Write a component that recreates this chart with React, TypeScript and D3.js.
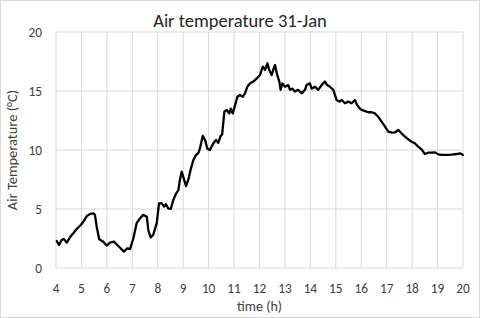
import * as d3 from "d3";

const width = 480;
const height = 318;
const margin = { top: 32, right: 17, bottom: 50, left: 56 };

// time of day (h) and air temperature (°C)
const hours = [
  4.03, 4.12, 4.22, 4.31, 4.42, 4.55, 4.68, 4.81, 4.97, 5.07, 5.21, 5.34, 5.47, 5.53,
  5.6, 5.7, 5.86, 5.99, 6.12, 6.28, 6.41, 6.54, 6.67, 6.8, 6.91, 7.04, 7.17, 7.3,
  7.43, 7.57, 7.63, 7.72, 7.82, 7.96, 8.05, 8.15, 8.25, 8.32, 8.41, 8.51, 8.61, 8.72,
  8.81, 8.87, 8.94, 9.0, 9.11, 9.2, 9.29, 9.4, 9.5, 9.59, 9.66, 9.77, 9.86, 9.95,
  10.05, 10.18, 10.29, 10.38, 10.47, 10.53, 10.62, 10.71, 10.81, 10.87, 10.95, 11.04,
  11.13, 11.23, 11.34, 11.43, 11.52, 11.63, 11.76, 11.89, 12.02, 12.13, 12.22, 12.31,
  12.38, 12.48, 12.54, 12.61, 12.68, 12.78, 12.83, 12.9, 13.0, 13.13, 13.2, 13.3,
  13.39, 13.52, 13.66, 13.79, 13.85, 13.98, 14.05, 14.18, 14.31, 14.44, 14.57, 14.66,
  14.77, 14.9, 15.03, 15.14, 15.23, 15.36, 15.49, 15.62, 15.75, 15.84, 15.95, 16.02,
  16.15, 16.28, 16.41, 16.54, 16.67, 16.8, 16.93, 17.06, 17.2, 17.33, 17.46, 17.59,
  17.72, 17.85, 17.98, 18.11, 18.24, 18.37, 18.5, 18.63, 18.77, 18.9, 19.03, 19.16,
  19.36, 19.55, 19.75, 19.88, 20.0,
];
const temperatures = [
  2.29, 1.95, 2.37, 2.46, 2.15, 2.6, 2.94, 3.3, 3.64, 3.9, 4.4, 4.58, 4.63, 4.5,
  3.5, 2.43, 2.23, 1.9, 2.15, 2.23, 1.95, 1.67, 1.38, 1.67, 1.6, 2.5, 3.8, 4.2,
  4.5, 4.35, 3.2, 2.6, 2.8, 3.8, 5.48, 5.5, 5.2, 5.4, 5.05, 5.0, 5.76, 6.3,
  6.6, 7.46, 8.16, 7.74, 6.95, 7.46, 8.3, 9.15, 9.58, 9.72, 10.14, 11.2, 10.85, 10.1,
  10.0, 10.55, 10.85, 10.6, 11.2, 11.3, 13.25, 13.4, 13.1, 13.5, 13.1, 13.8,
  14.5, 14.66, 14.5, 14.8, 15.36, 15.65, 15.8, 16.07, 16.36, 17.06, 16.8, 17.35,
  16.8, 16.36, 16.8, 17.2, 16.5, 15.8, 15.1, 15.65, 15.36, 15.5, 15.1, 15.2,
  14.95, 15.1, 14.8, 15.1, 15.5, 15.65, 15.2, 15.36, 15.1, 15.5, 15.8, 15.5,
  15.36, 15.1, 14.24, 14.1, 14.24, 13.96, 14.1, 13.96, 14.24, 13.8, 13.5, 13.4,
  13.3, 13.2, 13.2, 13.1, 12.8, 12.4, 12.0, 11.55, 11.47, 11.5, 11.7, 11.4,
  11.13, 10.9, 10.7, 10.56, 10.28, 10.06, 9.66, 9.77, 9.77, 9.8, 9.63, 9.58,
  9.58, 9.6, 9.66, 9.72, 9.58,
];

const xTicks = d3.range(4, 21, 1);
const yTicks = [0, 5, 10, 15, 20];

const font = "Carlito, Calibri, Lato, sans-serif";
const labelColor = "#404040";

export default function App() {
  const innerW = width - margin.left - margin.right;
  const innerH = height - margin.top - margin.bottom;

  const x = d3.scaleLinear().domain([4, 20]).range([0, innerW]);
  const y = d3.scaleLinear().domain([0, 20]).range([innerH, 0]);

  const points = hours.map((h, i) => [h, temperatures[i]] as [number, number]);
  const line = d3
    .line<[number, number]>()
    .x((d) => x(d[0]))
    .y((d) => y(d[1]));

  return (
    <svg
      width={width}
      height={height}
      style={{ position: "absolute", left: 0, top: 0, background: "#fff" }}
      fontFamily={font}
    >
      <rect
        x={0.5}
        y={0.5}
        width={width - 1}
        height={height - 1}
        fill="#fff"
        stroke="#d9d9d9"
      />
      <text
        x={width / 2}
        y={27}
        textAnchor="middle"
        fontSize={18.5}
        fill="#262626"
      >
        Air temperature 31-Jan
      </text>
      <g transform={`translate(${margin.left},${margin.top})`}>
        {xTicks.map((t) => (
          <line
            key={`gx${t}`}
            x1={x(t)}
            x2={x(t)}
            y1={0}
            y2={innerH}
            stroke="#d9d9d9"
            strokeWidth={1}
          />
        ))}
        {yTicks.map((t) => (
          <line
            key={`gy${t}`}
            x1={0}
            x2={innerW}
            y1={y(t)}
            y2={y(t)}
            stroke="#d9d9d9"
            strokeWidth={1}
          />
        ))}
        {yTicks.map((t) => (
          <text
            key={`ty${t}`}
            x={-14}
            y={y(t)}
            dy="0.35em"
            textAnchor="end"
            fontSize={13.3}
            fill={labelColor}
          >
            {t}
          </text>
        ))}
        {xTicks.map((t) => (
          <text
            key={`tx${t}`}
            x={x(t)}
            y={innerH + 25}
            textAnchor="middle"
            fontSize={13.3}
            fill={labelColor}
          >
            {t}
          </text>
        ))}
        <path
          d={line(points) ?? ""}
          fill="none"
          stroke="#000"
          strokeWidth={2.3}
          strokeLinejoin="round"
          strokeLinecap="round"
        />
        <text
          x={innerW / 2}
          y={innerH + 43}
          textAnchor="middle"
          fontSize={14}
          fill={labelColor}
        >
          time (h)
        </text>
        <text
          transform={`translate(${-39},${innerH / 2}) rotate(-90)`}
          textAnchor="middle"
          fontSize={14.5}
          fill={labelColor}
        >
          Air Temperature (°C)
        </text>
      </g>
    </svg>
  );
}
